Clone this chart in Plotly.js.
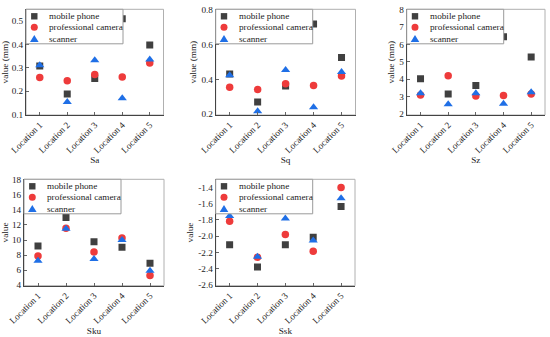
<!DOCTYPE html>
<html><head><meta charset="utf-8">
<script src="https://cdn.plot.ly/plotly-3.0.1.min.js"></script>
<style>html,body{margin:0;padding:0;background:#fff}#chart{width:550px;height:337px}</style>
</head><body><div id="chart"></div>
<script>
// ---- data ----
const locations = ['Location 1','Location 2','Location 3','Location 4','Location 5'];
const seriesNames = ['mobile phone','professional camera','scanner'];
const panelTitles = ['Sa','Sq','Sz','Sku','Ssk'];
const yTitles = ['value (mm)','value (mm)','value (mm)','value','value'];

const saMobile  = [0.308,0.188,0.254,0.510,0.397];
const saCamera  = [0.258,0.244,0.271,0.260,0.320];
const saScanner = [0.311,0.154,0.332,0.170,0.335];

const sqMobile  = [0.431,0.270,0.362,0.718,0.526];
const sqCamera  = [0.354,0.342,0.375,0.365,0.419];
const sqScanner = [0.423,0.216,0.454,0.239,0.442];

const szMobile  = [4.03,3.15,3.64,6.43,5.28];
const szCamera  = [3.09,4.20,3.04,3.07,3.15];
const szScanner = [3.19,2.56,3.19,2.60,3.26];

const skuMobile  = [9.20,13.01,9.78,9.03,6.90];
const skuCamera  = [7.87,11.55,8.41,10.27,5.30];
const skuScanner = [7.25,11.51,7.48,10.00,5.93];

const sskMobile  = [-2.105,-2.380,-2.105,-2.014,-1.636];
const sskCamera  = [-1.817,-2.261,-1.981,-2.187,-1.402];
const sskScanner = [-1.751,-2.253,-1.784,-2.055,-1.533];

const saTicks  = [0.1,0.2,0.3,0.4,0.5];
const sqTicks  = [0.2,0.4,0.6,0.8];
const szTicks  = [2,3,4,5,6,7,8];
const skuTicks = [4,6,8,10,12,14,16,18];
const sskTicks = [-2.6,-2.4,-2.2,-2.0,-1.8,-1.6,-1.4];
const saTickText  = ['0.1','0.2','0.3','0.4','0.5'];
const sqTickText  = ['0.2','0.4','0.6','0.8'];
const szTickText  = ['2','3','4','5','6','7','8'];
const skuTickText = ['4','6','8','10','12','14','16','18'];
const sskTickText = ['-2.6','-2.4','-2.2','-2.0','-1.8','-1.6','-1.4'];

// ---- layout / styling ----
const W = 550, H = 337;
const FONT = 'Liberation Serif';
const FS = 9.2;
const colors = ['#404040','#ee3b3b','#1f6fe6'];
const symbols = ['square','circle','triangle-up'];
const sizes = [7,7.5,8];

const panels = [
  {series:[saMobile,saCamera,saScanner], ticks:saTicks, tt:saTickText, range:[0.098,0.55], px:[26,163.5], py:[9.3,115]},
  {series:[sqMobile,sqCamera,sqScanner], ticks:sqTicks, tt:sqTickText, range:[0.195,0.803], px:[215.7,355.5], py:[9.3,115]},
  {series:[szMobile,szCamera,szScanner], ticks:szTicks, tt:szTickText, range:[1.95,8.01], px:[406.7,545], py:[9.3,115]},
  {series:[skuMobile,skuCamera,skuScanner], ticks:skuTicks, tt:skuTickText, range:[3.93,18.07], px:[24,164], py:[179.3,285.7]},
  {series:[sskMobile,sskCamera,sskScanner], ticks:sskTicks, tt:sskTickText, range:[-2.61,-1.30], px:[215.7,355], py:[179.3,285.7]}
];

const fx = p => p / W;
const fy = p => 1 - p / H;

const traces = [];
const layout = {
  width: W, height: H,
  margin: {l:0, r:0, t:0, b:0},
  paper_bgcolor: '#fff', plot_bgcolor: '#fff',
  showlegend: false,
  font: {family: FONT, size: FS, color: '#222'},
  shapes: [], annotations: []
};

panels.forEach((p, i) => {
  const n = i + 1;
  const xa = 'x' + (n === 1 ? '' : n), ya = 'y' + (n === 1 ? '' : n);
  p.series.forEach((vals, s) => {
    traces.push({
      type: 'scatter', mode: 'markers',
      x: locations, y: vals, xaxis: xa, yaxis: ya,
      name: seriesNames[s],
      marker: {symbol: symbols[s], size: sizes[s], color: colors[s]},
      hoverinfo: 'skip'
    });
  });
  layout['xaxis' + (n === 1 ? '' : n)] = {
    domain: [fx(p.px[0]), fx(p.px[1])], anchor: ya,
    type: 'category', range: [-0.5, 4.5],
    showgrid: false, zeroline: false,
    showline: true, linecolor: '#444', linewidth: 1,
    ticks: 'inside', ticklen: 3, tickcolor: '#666',
    tickangle: -45, tickfont: {family: FONT, size: FS, color: '#222'},
    title: {text: panelTitles[i], font: {family: FONT, size: FS, color: '#222'}, standoff: 2}
  };
  layout['yaxis' + (n === 1 ? '' : n)] = {
    domain: [fy(p.py[1]), fy(p.py[0])], anchor: xa,
    range: p.range, tickmode: 'array', tickvals: p.ticks, ticktext: p.tt,
    showgrid: false, zeroline: false,
    showline: true, linecolor: '#444', linewidth: 1,
    ticks: 'inside', ticklen: 3, tickcolor: '#666',
    tickfont: {family: FONT, size: FS, color: '#222'},
    title: {text: yTitles[i], font: {family: FONT, size: FS, color: '#222'}, standoff: 3}
  };
  // light frame (top/right)
  layout.shapes.push({type:'rect', xref:'paper', yref:'paper', layer:'below',
    x0: fx(p.px[0]), x1: fx(p.px[1]), y0: fy(p.py[1]), y1: fy(p.py[0]),
    line: {color:'#b0b0b0', width:1}});
  // custom legend box
  const L = p.px[0], T = p.py[0];
  layout.shapes.push({type:'rect', xref:'paper', yref:'paper', layer:'above',
    x0: fx(L), x1: fx(L + 97), y0: fy(T + 34.5), y1: fy(T),
    fillcolor: 'rgba(255,255,255,1)', line: {color:'#9a9a9a', width:1}});
  const rows = [7, 18, 29.4];
  const sx = L + 8.3;
  rows.forEach((ry, s) => {
    const cy = T + ry;
    if (s === 0) {
      layout.shapes.push({type:'rect', xref:'paper', yref:'paper', layer:'above',
        x0: fx(sx - 3.2), x1: fx(sx + 3.2), y0: fy(cy + 3.2), y1: fy(cy - 3.2),
        fillcolor: colors[0], line: {width: 0}});
    } else if (s === 1) {
      layout.shapes.push({type:'circle', xref:'paper', yref:'paper', layer:'above',
        x0: fx(sx - 3.5), x1: fx(sx + 3.5), y0: fy(cy + 3.5), y1: fy(cy - 3.5),
        fillcolor: colors[1], line: {width: 0}});
    } else {
      layout.shapes.push({type:'path', xref:'paper', yref:'paper', layer:'above',
        path: `M ${fx(sx - 4.3)} ${fy(cy + 3.2)} L ${fx(sx + 4.3)} ${fy(cy + 3.2)} L ${fx(sx)} ${fy(cy - 3.6)} Z`,
        fillcolor: colors[2], line: {width: 0}});
    }
    layout.annotations.push({xref:'paper', yref:'paper', x: fx(L + 21), y: fy(cy),
      xanchor:'left', yanchor:'middle', showarrow:false, text: seriesNames[s],
      font: {family: FONT, size: FS, color: '#222'}});
  });
});

Plotly.newPlot('chart', traces, layout, {displayModeBar: false, staticPlot: true});
</script>
</body></html>
